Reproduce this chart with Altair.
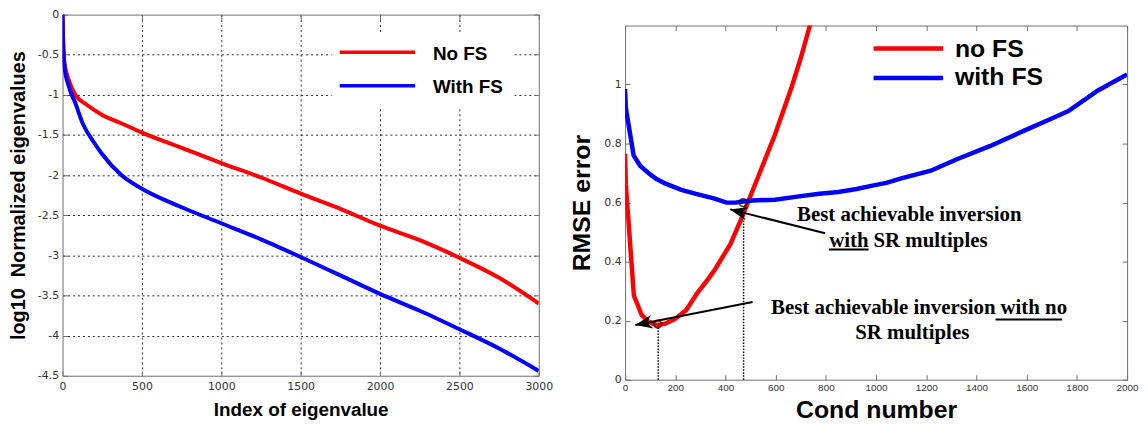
import math
import altair as alt
import pandas as pd

# ---------------- left panel data ----------------
eig_index_nofs = [0, 4, 12, 40, 80, 150, 250, 365, 500, 750, 1000, 1250, 1500, 1750, 2000, 2250, 2500, 2750, 3000]
eig_value_nofs = [0, -0.35, -0.6, -0.82, -1.0, -1.12, -1.25, -1.35, -1.47, -1.66, -1.85, -2.03, -2.23,
                  -2.42, -2.63, -2.81, -3.03, -3.28, -3.6]
eig_index_fs = [0, 4, 12, 40, 80, 130, 200, 250, 370, 500, 750, 1000, 1250, 1500, 1750, 2000, 2250, 2500, 2750, 3000]
eig_value_fs = [0, -0.35, -0.65, -0.9, -1.1, -1.37, -1.6, -1.74, -2.0, -2.17, -2.4, -2.6, -2.8, -3.02,
                -3.25, -3.48, -3.69, -3.92, -4.16, -4.44]
left_series = ["No FS", "With FS"]
left_x_ticks = [0, 500, 1000, 1500, 2000, 2500, 3000]
left_y_ticks = [0, -0.5, -1, -1.5, -2, -2.5, -3, -3.5, -4, -4.5]
left_x_grid = [500, 1000, 1500, 2000, 2500]
left_y_grid = [-0.5, -1, -1.5, -2, -2.5, -3, -3.5, -4]

# ---------------- right panel data ----------------
cond_nofs = [0, 3, 35, 66, 93, 126, 160, 198, 243, 289, 330, 360, 420, 463, 503, 550, 597, 663, 700, 733, 760]
rmse_nofs = [0.765, 0.66, 0.285, 0.22, 0.197, 0.185, 0.19, 0.205, 0.235, 0.295, 0.34, 0.376, 0.46, 0.545,
             0.63, 0.73, 0.83, 0.99, 1.09, 1.19, 1.27]
cond_fs = [0, 3, 34, 60, 93, 125, 159, 224, 290, 350, 404, 440, 463, 508, 597, 700, 774, 850, 922, 1000,
           1041, 1100, 1218, 1322, 1455, 1588, 1700, 1766, 1884, 2000]
rmse_fs = [0.985, 0.92, 0.76, 0.725, 0.70, 0.68, 0.665, 0.643, 0.628, 0.615, 0.600, 0.600, 0.603, 0.607,
           0.610, 0.622, 0.630, 0.636, 0.646, 0.660, 0.667, 0.682, 0.708, 0.747, 0.792, 0.843, 0.885,
           0.91, 0.98, 1.034]
right_series = ["no FS", "with FS"]
right_x_ticks = [0, 200, 400, 600, 800, 1000, 1200, 1400, 1600, 1800, 2000]
right_y_ticks = [0, 0.2, 0.4, 0.6, 0.8, 1]

best_cond = [130, 470]
best_rmse = [0.188, 0.600]
drop_cond = [132, 472]
drop_top = [0.185, 0.585]

arrow_tail_x = [797, 508]
arrow_tail_y = [0.496, 0.263]
arrow_tip_x = [419, 41]
arrow_tip_y = [0.577, 0.185]

# ---------------- layout / style ----------------
LW, LH = 480, 364
RW, RH = 506, 357
RED, BLUE = "#ff0000", "#0000ff"
GRAY = "#6e6e6e"
SANS = "Liberation Sans"
TICKFONT = "DejaVu Sans"
NARROW = "'Liberation Sans Narrow', 'Liberation Sans', sans-serif"
SERIF = "Liberation Serif"

# ================= LEFT =================
left_df = pd.concat([
    pd.DataFrame({"x": eig_index_nofs, "y": eig_value_nofs, "s": left_series[0]}),
    pd.DataFrame({"x": eig_index_fs, "y": eig_value_fs, "s": left_series[1]}),
])
lxs = alt.Scale(domain=[0, 3000], nice=False)
lys = alt.Scale(domain=[-4.5, 0], nice=False)
lcol = alt.Color("s:N", scale=alt.Scale(domain=left_series, range=[RED, BLUE]), legend=None)

left_lines = alt.Chart(left_df).mark_line(strokeWidth=4, clip=True, interpolate="monotone").encode(
    x=alt.X("x:Q", scale=lxs, axis=alt.Axis(
        orient="bottom", values=left_x_ticks, labelExpr="toString(datum.value)",
        title="Index of eigenvalue", titleFont=SANS, titleFontSize=19, titleFontWeight="bold",
        titleColor="black", titlePadding=9,
        labelFont=TICKFONT, labelFontSize=11, labelColor="#333", labelPadding=5,
        labelFlush=False, labelOverlap=False,
        domain=False, grid=False, ticks=True, tickSize=5, tickColor=GRAY, offset=-5)),
    y=alt.Y("y:Q", scale=lys, axis=alt.Axis(
        orient="left", values=left_y_ticks, labelExpr="toString(datum.value)",
        title="log10\u00a0\u00a0Normalized eigenvalues", titleFont=SANS, titleFontSize=20,
        titleFontWeight="bold", titleColor="black", titlePadding=9,
        labelFont=TICKFONT, labelFontSize=11, labelColor="#333", labelPadding=4,
        labelFlush=False, labelOverlap=False,
        domain=False, grid=False, ticks=True, tickSize=5, tickColor=GRAY, offset=-5)),
    color=lcol,
)

left_frame = alt.Chart(left_df).mark_line(opacity=0).encode(
    x=alt.X("x:Q", scale=lxs, axis=alt.Axis(
        orient="top", values=left_x_ticks, labels=False, title=None, domain=False, grid=False,
        tickSize=5, tickColor=GRAY, offset=-5)),
    y=alt.Y("y:Q", scale=lys, axis=alt.Axis(
        orient="right", values=left_y_ticks, labels=False, title=None, domain=False, grid=False,
        tickSize=5, tickColor=GRAY, offset=-5)),
)

left_grid = alt.Chart(left_df).mark_line(opacity=0).encode(
    x=alt.X("x:Q", scale=lxs, axis=alt.Axis(
        orient="bottom", values=left_x_grid, labels=False, ticks=False, title=None, domain=False,
        grid=True, gridColor="#000", gridDash=[2, 3], gridWidth=1, gridOpacity=0.85)),
    y=alt.Y("y:Q", scale=lys, axis=alt.Axis(
        orient="left", values=left_y_grid, labels=False, ticks=False, title=None, domain=False,
        grid=True, gridColor="#000", gridDash=[2, 3], gridWidth=1, gridOpacity=0.85)),
)

legend_box = alt.Chart(pd.DataFrame({"x": [1695], "x2": [2846], "y": [-0.249], "y2": [-1.169]})).mark_rect(
    color="white").encode(
    x=alt.X("x:Q", scale=lxs, axis=None), x2="x2:Q",
    y=alt.Y("y:Q", scale=lys, axis=None), y2="y2:Q")

left_leg_df = pd.DataFrame({"s": left_series, "x": [1746, 1746], "x2": [2221, 2221], "y": [-0.469, -0.886],
                            "tx": [2333, 2333], "ty": [-0.491, -0.905]})
left_leg_rules = alt.Chart(left_leg_df).mark_rule(strokeWidth=3.5).encode(
    x=alt.X("x:Q", scale=lxs, axis=None), x2="x2:Q",
    y=alt.Y("y:Q", scale=lys, axis=None), color=lcol)
left_leg_text = alt.Chart(left_leg_df).mark_text(
    align="left", baseline="middle", font=SANS, fontSize=19, fontWeight="bold", color="black").encode(
    x=alt.X("tx:Q", scale=lxs, axis=None), y=alt.Y("ty:Q", scale=lys, axis=None), text="s:N")

left = alt.layer(left_grid, left_lines, left_frame, legend_box, left_leg_rules, left_leg_text).resolve_axis(
    x="independent", y="independent").properties(width=LW, height=LH)

# ================= RIGHT =================
right_df = pd.concat([
    pd.DataFrame({"x": cond_nofs, "y": rmse_nofs, "s": right_series[0]}),
    pd.DataFrame({"x": cond_fs, "y": rmse_fs, "s": right_series[1]}),
])
rxs = alt.Scale(domain=[0, 2000], nice=False)
rys = alt.Scale(domain=[0, 1.2], nice=False)
rcol = alt.Color("s:N", scale=alt.Scale(domain=right_series, range=[RED, BLUE]), legend=None)

right_lines = alt.Chart(right_df).mark_line(strokeWidth=4.5, clip=True).encode(
    x=alt.X("x:Q", scale=rxs, axis=alt.Axis(
        orient="bottom", values=right_x_ticks, labelExpr="toString(datum.value)",
        title="Cond number", titleFont=SANS, titleFontSize=25, titleFontWeight="bold",
        titleColor="black", titlePadding=5,
        labelFont=NARROW, labelFontSize=10, labelColor="#333", labelPadding=3,
        labelFlush=False, labelOverlap=False,
        domain=False, grid=False, tickSize=5, tickColor=GRAY, offset=-5)),
    y=alt.Y("y:Q", scale=rys, axis=alt.Axis(
        orient="left", values=right_y_ticks, labelExpr="toString(datum.value)",
        title="RMSE error", titleFont=SANS, titleFontSize=25, titleFontWeight="bold",
        titleColor="black", titlePadding=9,
        labelFont=TICKFONT, labelFontSize=11, labelColor="#333", labelPadding=4,
        labelFlush=False, labelOverlap=False,
        domain=False, grid=False, tickSize=5, tickColor=GRAY, offset=-5)),
    color=rcol,
)

right_frame = alt.Chart(right_df).mark_line(opacity=0).encode(
    x=alt.X("x:Q", scale=rxs, axis=alt.Axis(
        orient="top", values=right_x_ticks, labels=False, title=None, domain=False, grid=False,
        tickSize=5, tickColor=GRAY, offset=-5)),
    y=alt.Y("y:Q", scale=rys, axis=alt.Axis(
        orient="right", values=right_y_ticks, labels=False, title=None, domain=False, grid=False,
        tickSize=5, tickColor=GRAY, offset=-5)),
)

drops = alt.Chart(pd.DataFrame({"x": drop_cond, "y0": [0, 0], "y1": drop_top})).mark_rule(
    color="black", strokeWidth=1.5, strokeDash=[1.5, 1.5]).encode(
    x=alt.X("x:Q", scale=rxs, axis=None),
    y=alt.Y("y0:Q", scale=rys, axis=None), y2="y1:Q")

best = alt.Chart(pd.DataFrame({"x": best_cond, "y": best_rmse})).mark_point(
    shape="circle", filled=False, color="black", size=60, strokeWidth=1.6).encode(
    x=alt.X("x:Q", scale=rxs, axis=None), y=alt.Y("y:Q", scale=rys, axis=None))

sx, sy = RW / 2000.0, RH / 1.2
angles = []
for x0, y0, x1, y1 in zip(arrow_tail_x, arrow_tail_y, arrow_tip_x, arrow_tip_y):
    dx = (x1 - x0) * sx
    dys = -(y1 - y0) * sy
    angles.append(math.degrees(math.atan2(dx, -dys)) % 360)
arrow_df = pd.DataFrame({"x0": arrow_tail_x, "y0": arrow_tail_y, "x1": arrow_tip_x, "y1": arrow_tip_y,
                         "a": angles})
arrow_lines = alt.Chart(arrow_df).mark_rule(color="black", strokeWidth=2).encode(
    x=alt.X("x0:Q", scale=rxs, axis=None), y=alt.Y("y0:Q", scale=rys, axis=None),
    x2="x1:Q", y2="y1:Q")
arrow_heads = alt.Chart(arrow_df).mark_point(
    shape="M0,0 L0.8,2 L0,1.4 L-0.8,2 Z", filled=True, color="black", opacity=1, size=300,
    strokeWidth=0).encode(
    x=alt.X("x1:Q", scale=rxs, axis=None), y=alt.Y("y1:Q", scale=rys, axis=None),
    angle=alt.Angle("a:Q", scale=None))

ann_c = pd.DataFrame({"x": [1132, 1144], "y": [0.539, 0.138], "t": ["Best achievable inversion", "SR multiples"]})
ann_r = pd.DataFrame({"x": [970, 1476], "y": [0.451, 0.221], "t": ["with", "Best achievable inversion"]})
ann_l = pd.DataFrame({"x": [970, 1476], "y": [0.451, 0.221], "t": ["SR multiples", "with no"]})


def ann_layer(df, align, dx):
    return alt.Chart(df).mark_text(align=align, baseline="alphabetic", font=SERIF, fontSize=21,
                                   fontWeight="bold", color="black", dx=dx).encode(
        x=alt.X("x:Q", scale=rxs, axis=None), y=alt.Y("y:Q", scale=rys, axis=None), text="t:N")


underline = alt.Chart(pd.DataFrame({"x": [812, 1476], "x2": [970, 1741], "y": [0.441, 0.204]})).mark_rule(
    color="black", strokeWidth=2).encode(
    x=alt.X("x:Q", scale=rxs, axis=None), x2="x2:Q", y=alt.Y("y:Q", scale=rys, axis=None))

right_leg_df = pd.DataFrame({"s": right_series, "x": [990, 990], "x2": [1267, 1267], "y": [1.122, 1.022],
                             "tx": [1314, 1314], "ty": [1.121, 1.027]})
right_leg_rules = alt.Chart(right_leg_df).mark_rule(strokeWidth=4.5).encode(
    x=alt.X("x:Q", scale=rxs, axis=None), x2="x2:Q",
    y=alt.Y("y:Q", scale=rys, axis=None), color=rcol)
right_leg_text = alt.Chart(right_leg_df).mark_text(
    align="left", baseline="middle", font=SANS, fontSize=25, fontWeight="bold", color="black").encode(
    x=alt.X("tx:Q", scale=rxs, axis=None), y=alt.Y("ty:Q", scale=rys, axis=None), text="s:N")

right_main = alt.layer(
    right_lines, right_frame, drops, best, arrow_lines, arrow_heads,
    ann_layer(ann_c, "center", 0), ann_layer(ann_r, "right", 0), ann_layer(ann_l, "left", 5), underline,
    right_leg_rules, right_leg_text,
).resolve_axis(x="independent", y="independent").properties(width=RW, height=RH)

spacer = alt.Chart(pd.DataFrame({"v": [0]})).mark_point(opacity=0, size=1).encode(
    x=alt.value(0), y=alt.value(6)).properties(width=RW, height=11,
                                                view=alt.ViewBackground(stroke="transparent"))

right = alt.vconcat(spacer, right_main, spacing=0, bounds="flush")

chart = alt.hconcat(left, right, spacing=87, bounds="flush").properties(
    padding={"top": -6, "left": 0, "right": 0, "bottom": 0}
).configure_view(stroke=GRAY, strokeWidth=1)

chart.save("out.html", embed_options={"renderer": "svg", "actions": False})
